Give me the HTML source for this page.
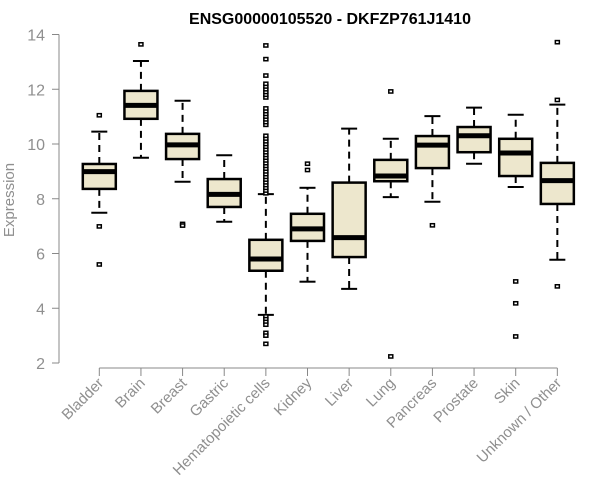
<!DOCTYPE html>
<html><head><meta charset="utf-8"><style>
body{margin:0;background:#fff}
svg{display:block;font-family:"Liberation Sans",Arial,sans-serif}
</style></head><body>
<svg id="chart" width="600" height="500">
<text x="330" y="24" text-anchor="middle" font-weight="bold" font-size="16" fill="#000">ENSG00000105520 - DKFZP761J1410</text>
<text transform="translate(14,200) rotate(-90)" text-anchor="middle" font-size="15" fill="#8f8f8f">Expression</text>
<g id="yaxis"></g>
<g id="xaxis"></g>
<g id="boxes"></g>
</svg>
<script>
const categories=["Bladder","Brain","Breast","Gastric","Hematopoietic cells","Kidney","Liver","Lung","Pancreas","Prostate","Skin","Unknown / Other"];
const q1=[8.36,10.92,9.45,7.70,5.37,6.46,5.87,8.64,9.12,9.70,8.83,7.81];
const medians=[8.99,11.41,9.97,8.16,5.80,6.90,6.58,8.83,9.96,10.30,9.67,8.66];
const q3=[9.27,11.94,10.37,8.72,6.50,7.45,8.59,9.42,10.29,10.62,10.19,9.31];
const whiskerLow=[7.49,9.50,8.62,7.16,3.76,4.97,4.71,8.06,7.89,9.28,8.43,5.77];
const whiskerHigh=[10.45,13.03,11.58,9.59,8.17,8.40,10.56,10.19,11.02,11.33,11.07,11.44];
const outliers=[[11.05,6.99,5.6],[13.64],[7.08,7.02],[],
[8.2,8.3,8.4,8.5,8.6,8.7,8.8,8.9,9.0,9.1,9.2,9.3,9.4,9.5,9.6,9.7,9.8,9.9,10.0,10.1,10.2,10.3,10.7,10.8,10.9,11.0,11.1,11.2,11.3,11.7,11.8,11.9,12.0,12.1,12.2,12.5,13.1,13.6,3.7,3.6,3.5,3.4,3.1,3.0,2.7],
[9.28,9.05],[],[11.92,2.24],[7.03],[],[4.98,4.18,2.97],[13.72,11.61,4.8]];
const yTicks=[2,4,6,8,10,12,14];
const NS="http://www.w3.org/2000/svg";
function y(v){return 363-(v-2)*27.375;}
function x(i){return 99.3+i*41.64;}
function mk(p,tag,a){const e=document.createElementNS(NS,tag);for(const k in a)e.setAttribute(k,a[k]);p.appendChild(e);return e;}
const ya=document.getElementById('yaxis'),xa=document.getElementById('xaxis'),bx=document.getElementById('boxes');
const axc="#888";
const yl=mk(ya,'line',{x1:59,x2:59,y1:y(14),y2:y(2),stroke:axc,'stroke-width':1});


yTicks.forEach(t=>{
  const tk=mk(ya,'line',{x1:52,x2:59,y1:y(t),y2:y(t),stroke:axc});
  
  
  const tl=mk(ya,'text',{x:45,y:y(t)+6,'text-anchor':'end','font-size':16,fill:'#8f8f8f'});
  tl.textContent=t;
  
  
});
const xl=mk(xa,'line',{x1:x(0),x2:x(categories.length-1),y1:368,y2:368,stroke:axc});


categories.forEach((c,i)=>{
  const cx=x(i);
  const tk=mk(xa,'line',{x1:cx,x2:cx,y1:368,y2:376,stroke:axc});
  
  
  const tl=mk(xa,'text',{transform:`translate(${cx+5},${384}) rotate(-45)`,'text-anchor':'end','font-size':15,fill:'#8f8f8f'});
  tl.textContent=c;
  
  
  const g=mk(bx,'g',{});
  
  
  const hw=16.5,cw=8;
  mk(g,'line',{x1:cx,x2:cx,y1:y(q3[i]),y2:y(whiskerHigh[i]),stroke:'#000','stroke-width':2,'stroke-dasharray':'7,5'});
  mk(g,'line',{x1:cx,x2:cx,y1:y(q1[i]),y2:y(whiskerLow[i]),stroke:'#000','stroke-width':2,'stroke-dasharray':'7,5'});
  mk(g,'line',{x1:cx-cw,x2:cx+cw,y1:y(whiskerHigh[i]),y2:y(whiskerHigh[i]),stroke:'#000','stroke-width':2});
  mk(g,'line',{x1:cx-cw,x2:cx+cw,y1:y(whiskerLow[i]),y2:y(whiskerLow[i]),stroke:'#000','stroke-width':2});
  mk(g,'rect',{x:cx-hw,y:y(q3[i]),width:hw*2,height:y(q1[i])-y(q3[i]),fill:'#ede7cd',stroke:'#000','stroke-width':2.5});
  mk(g,'line',{x1:cx-hw,x2:cx+hw,y1:y(medians[i]),y2:y(medians[i]),stroke:'#000','stroke-width':5});
  outliers[i].forEach(o=>{
    mk(g,'rect',{x:cx-2,y:y(o)-1.6,width:4,height:3.2,fill:'#fff',stroke:'#000','stroke-width':1.5});
  });
});
</script>
</body></html>
